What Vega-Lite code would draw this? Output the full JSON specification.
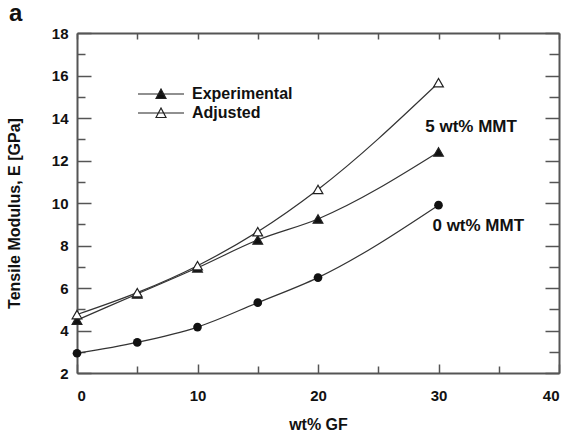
{
  "$schema": "https://vega.github.io/schema/vega-lite/v6.json",
  "width": 482,
  "height": 340,
  "autosize": "none",
  "padding": {"left": 77, "top": 33, "right": 9, "bottom": 64},
  "background": "white",
  "title": {"text": "a", "anchor": "start", "frame": "group", "dx": -68, "dy": 22, "offset": 3, "baseline": "alphabetic", "fontSize": 24, "fontWeight": "bold", "font": "Liberation Sans", "color": "#111"},
  "config": {
    "view": {"stroke": null},
    "font": "Liberation Sans",
    "axis": {"grid": false, "domainColor": "#555", "domainWidth": 2, "tickColor": "#555", "tickWidth": 1.5, "labelFont": "Liberation Sans", "labelFontWeight": "bold", "labelFontSize": 15, "labelColor": "#111", "titleFont": "Liberation Sans", "titleFontWeight": "bold", "titleFontSize": 16, "titleColor": "#111"},
    "legend": {"labelFont": "Liberation Sans", "labelFontWeight": "bold", "labelFontSize": 16, "labelColor": "#111"}
  },
  "datasets": {
    "main": [
      {"gf": 0, "modulus": 2.93, "series": "0 wt% MMT"},
      {"gf": 5, "modulus": 3.44, "series": "0 wt% MMT"},
      {"gf": 10, "modulus": 4.16, "series": "0 wt% MMT"},
      {"gf": 15, "modulus": 5.31, "series": "0 wt% MMT"},
      {"gf": 20, "modulus": 6.49, "series": "0 wt% MMT"},
      {"gf": 30, "modulus": 9.9, "series": "0 wt% MMT"},
      {"gf": 0, "modulus": 4.49, "series": "Experimental"},
      {"gf": 5, "modulus": 5.72, "series": "Experimental"},
      {"gf": 10, "modulus": 6.95, "series": "Experimental"},
      {"gf": 15, "modulus": 8.26, "series": "Experimental"},
      {"gf": 20, "modulus": 9.25, "series": "Experimental"},
      {"gf": 30, "modulus": 12.4, "series": "Experimental"},
      {"gf": 0, "modulus": 4.75, "series": "Adjusted"},
      {"gf": 5, "modulus": 5.78, "series": "Adjusted"},
      {"gf": 10, "modulus": 7.05, "series": "Adjusted"},
      {"gf": 15, "modulus": 8.65, "series": "Adjusted"},
      {"gf": 20, "modulus": 10.64, "series": "Adjusted"},
      {"gf": 30, "modulus": 15.66, "series": "Adjusted"}
    ],
    "labels": [
      {"gf": 32.7, "modulus": 13.6, "text": "5 wt% MMT"},
      {"gf": 33.3, "modulus": 8.9, "text": "0 wt% MMT"}
    ]
  },
  "resolve": {"axis": {"x": "independent", "y": "independent"}},
  "layer": [
    {
      "data": {"name": "main"},
      "mark": {"type": "line", "interpolate": "monotone", "color": "#333", "strokeWidth": 1.2},
      "encoding": {
        "x": {"field": "gf", "type": "quantitative", "scale": {"domain": [0, 40], "nice": false},
          "axis": {"title": "wt% GF", "values": [0, 5, 10, 15, 20, 25, 30, 35, 40], "labelExpr": "datum.value % 10 === 0 ? datum.label : ''", "tickSize": {"condition": {"test": "datum.value % 10 === 0", "value": -9}, "value": -7}, "labelPadding": 24, "titlePadding": 13}},
        "y": {"field": "modulus", "type": "quantitative", "scale": {"domain": [2, 18], "nice": false},
          "axis": {"title": "Tensile Modulus, E [GPa]", "values": [2, 3, 4, 5, 6, 7, 8, 9, 10, 11, 12, 13, 14, 15, 16, 17, 18], "labelExpr": "datum.value % 2 === 0 ? datum.label : ''", "tickSize": {"condition": {"test": "datum.value % 2 === 0", "value": -14}, "value": -8}, "labelPadding": 23, "titlePadding": 29, "titleY": 180}},
        "detail": {"field": "series"}
      }
    },
    {
      "data": {"name": "main"},
      "transform": [{"filter": "datum.series === '0 wt% MMT'"}],
      "mark": {"type": "point", "shape": "circle", "filled": true, "color": "#111", "size": 75, "opacity": 1},
      "encoding": {
        "x": {"field": "gf", "type": "quantitative", "axis": null},
        "y": {"field": "modulus", "type": "quantitative", "axis": null}
      }
    },
    {
      "data": {"name": "main"},
      "transform": [{"filter": "datum.series !== '0 wt% MMT'"}],
      "mark": {"type": "point", "shape": "triangle-up", "stroke": "#222", "strokeWidth": 1.2, "size": 95, "opacity": 1},
      "encoding": {
        "x": {"field": "gf", "type": "quantitative", "axis": null},
        "y": {"field": "modulus", "type": "quantitative", "axis": null},
        "fill": {"field": "series", "type": "nominal",
          "scale": {"domain": ["Experimental", "Adjusted"], "range": ["#111", "#ffffff"]},
          "legend": {"title": null, "orient": "none", "legendX": 73, "legendY": 50, "padding": 0, "symbolType": "M-2.3,0H2.3M-0.5,0.45L0,-0.5L0.5,0.45Z", "symbolSize": 400, "symbolStrokeColor": "#222", "symbolStrokeWidth": 1.2, "labelOffset": 20, "rowPadding": 0}}
      }
    },
    {
      "data": {"name": "labels"},
      "mark": {"type": "text", "font": "Liberation Sans", "fontWeight": "bold", "fontSize": 17, "color": "#111", "align": "center", "baseline": "middle"},
      "encoding": {
        "x": {"field": "gf", "type": "quantitative",
          "axis": {"orient": "top", "title": null, "labels": false, "values": [0, 5, 10, 15, 20, 25, 30, 35, 40], "tickSize": -6}},
        "y": {"field": "modulus", "type": "quantitative",
          "axis": {"orient": "right", "title": null, "labels": false, "values": [2, 3, 4, 5, 6, 7, 8, 9, 10, 11, 12, 13, 14, 15, 16, 17, 18], "tickSize": {"condition": {"test": "datum.value % 2 === 0", "value": -14}, "value": -10}}},
        "text": {"field": "text"}
      }
    }
  ]
}
